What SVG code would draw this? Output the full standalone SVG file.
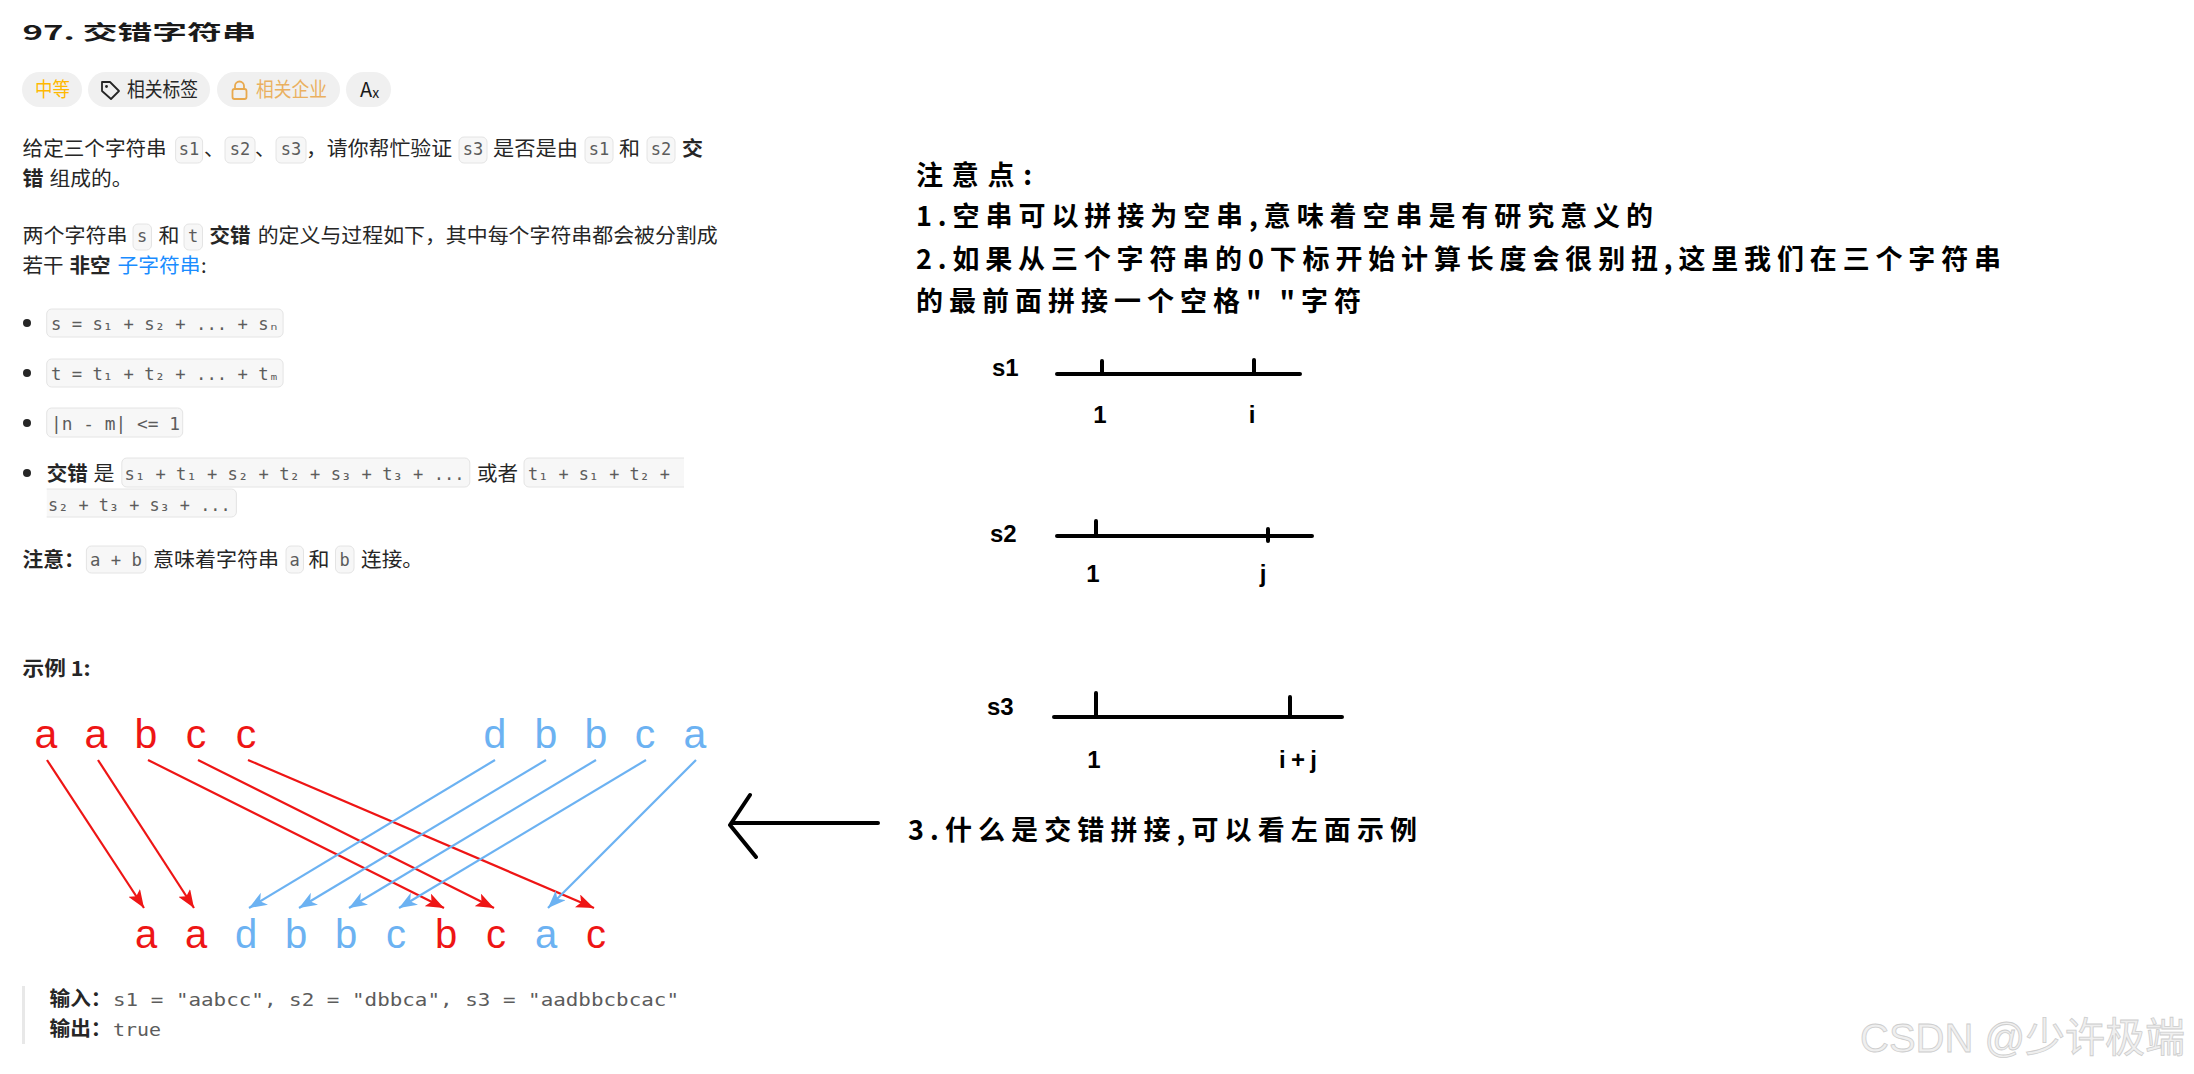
<svg xmlns="http://www.w3.org/2000/svg" width="2194" height="1074" viewBox="0 0 2194 1074">
<defs>
<style>
.t{font-family:"Noto Sans CJK SC","Noto Sans",sans-serif;font-size:20px;fill:#262626}
.b{font-weight:700}
.m{font-family:"DejaVu Sans Mono","Liberation Mono",monospace;font-size:17px;fill:#5c5c5c}
.chip{fill:#f7f7f7;stroke:#e4e4e4;stroke-width:1}
.pill{fill:#f0f0f0}
.hw{font-family:"Noto Sans CJK SC",sans-serif;font-weight:700;font-size:27px;fill:#000}
.lbl{font-family:"Liberation Sans",Arial,sans-serif;font-size:24px;font-weight:700;fill:#000}
.ax{stroke:#000;stroke-width:4;stroke-linecap:round;stroke-linejoin:round;fill:none}
.lr{font-family:"Liberation Sans",Arial,sans-serif;fill:#ee1515;text-anchor:middle}
.lb{font-family:"Liberation Sans",Arial,sans-serif;fill:#6cb2f2;text-anchor:middle}
.ar{stroke:#ee1515;stroke-width:2.2;fill:none;marker-end:url(#hr)}
.ab{stroke:#6cb2f2;stroke-width:2.2;fill:none;marker-end:url(#hb)}
</style>
<marker id="hr" markerUnits="userSpaceOnUse" markerWidth="18" markerHeight="14" refX="18" refY="7" orient="auto"><path d="M0,0 L18,7 L0,14 L4,7 z" fill="#ee1515"/></marker>
<marker id="hb" markerUnits="userSpaceOnUse" markerWidth="18" markerHeight="14" refX="18" refY="7" orient="auto"><path d="M0,0 L18,7 L0,14 L5,7 z" fill="#6cb2f2"/></marker>
</defs>
<rect width="2194" height="1074" fill="#fff"/>

<g id="title">
<text class="t b" x="22.5" y="40" font-size="33" textLength="234" lengthAdjust="spacingAndGlyphs" style="fill:#1a1a1a">97. 交错字符串</text>
</g>

<g id="tags">
<rect class="pill" x="22" y="72" width="60" height="35" rx="17.5"/>
<text class="t" x="35" y="97" font-size="18" textLength="35" lengthAdjust="spacingAndGlyphs" style="fill:#ffb800">中等</text>
<rect class="pill" x="88" y="72" width="122" height="35" rx="17.5"/>
<path d="M102,82 L110,82 L119,91 L111,99 L102,91 Z" fill="none" stroke="#262626" stroke-width="1.8" stroke-linejoin="round"/>
<circle cx="106.5" cy="86.5" r="1.4" fill="#262626"/>
<text class="t" x="127" y="97" font-size="18" textLength="71" lengthAdjust="spacingAndGlyphs">相关标签</text>
<rect class="pill" x="217" y="72" width="123" height="35" rx="17.5"/>
<path d="M235,89 v-3 a4.5,4.5 0 0 1 9,0 v3" fill="none" stroke="#e8a94e" stroke-width="1.8"/>
<rect x="232.5" y="89" width="14" height="10" rx="2" fill="none" stroke="#e8a94e" stroke-width="1.8"/>
<text class="t" x="256" y="97" font-size="18" textLength="71" lengthAdjust="spacingAndGlyphs" style="fill:#eab060">相关企业</text>
<rect class="pill" x="346" y="72" width="45" height="35" rx="17.5"/>
<text class="t" x="360" y="97" font-size="18" style="fill:#1a1a1a">A<tspan font-size="14" dy="1">x</tspan></text>
</g>

<g id="desc">
<text class="t" x="22.6" y="156" textLength="144" lengthAdjust="spacingAndGlyphs">给定三个字符串</text>
<rect class="chip" x="175.6" y="137" width="27" height="26" rx="5"/><text class="m" x="189" y="155" text-anchor="middle">s1</text>
<text class="t" x="204" y="156">、</text>
<rect class="chip" x="225" y="137" width="30" height="26" rx="5"/><text class="m" x="240" y="155" text-anchor="middle">s2</text>
<text class="t" x="255" y="156">、</text>
<rect class="chip" x="276" y="137" width="30" height="26" rx="5"/><text class="m" x="291" y="155" text-anchor="middle">s3</text>
<text class="t" x="306" y="156" textLength="146" lengthAdjust="spacingAndGlyphs">，请你帮忙验证</text>
<rect class="chip" x="459" y="137" width="28" height="26" rx="5"/><text class="m" x="473" y="155" text-anchor="middle">s3</text>
<text class="t" x="493" y="156" textLength="85" lengthAdjust="spacingAndGlyphs">是否是由</text>
<rect class="chip" x="585" y="137" width="28" height="26" rx="5"/><text class="m" x="599" y="155" text-anchor="middle">s1</text>
<text class="t" x="619" y="156" textLength="21" lengthAdjust="spacingAndGlyphs">和</text>
<rect class="chip" x="647" y="137" width="28" height="26" rx="5"/><text class="m" x="661" y="155" text-anchor="middle">s2</text>
<text class="t b" x="682" y="156" textLength="21" lengthAdjust="spacingAndGlyphs">交</text>
<text class="t b" x="22.6" y="186" textLength="21" lengthAdjust="spacingAndGlyphs">错</text>
<text class="t" x="49.5" y="186" textLength="83" lengthAdjust="spacingAndGlyphs">组成的。</text>

<text class="t" x="22.6" y="243" textLength="105" lengthAdjust="spacingAndGlyphs">两个字符串</text>
<rect class="chip" x="133" y="224" width="18.5" height="26" rx="5"/><text class="m" x="142.2" y="242" text-anchor="middle">s</text>
<text class="t" x="158.6" y="243" textLength="21" lengthAdjust="spacingAndGlyphs">和</text>
<rect class="chip" x="184" y="224" width="18.5" height="26" rx="5"/><text class="m" x="193.2" y="242" text-anchor="middle">t</text>
<text class="t b" x="209.5" y="243" textLength="41" lengthAdjust="spacingAndGlyphs">交错</text>
<text class="t" x="257.7" y="243" textLength="460" lengthAdjust="spacingAndGlyphs">的定义与过程如下，其中每个字符串都会被分割成</text>
<text class="t" x="22.6" y="273" textLength="41" lengthAdjust="spacingAndGlyphs">若干</text>
<text class="t b" x="69.4" y="273" textLength="41" lengthAdjust="spacingAndGlyphs">非空</text>
<text class="t" x="117.5" y="273" textLength="83" lengthAdjust="spacingAndGlyphs" style="fill:#1a8cff">子字符串</text>
<text class="t" x="201" y="273">:</text>
</g>

<g id="bullets">
<circle cx="27" cy="323" r="4" fill="#262626"/>
<rect class="chip" x="46.7" y="309" width="236.4" height="28" rx="5"/>
<text class="m" x="51" y="330" textLength="228" lengthAdjust="spacingAndGlyphs">s = s₁ + s₂ + ... + sₙ</text>
<circle cx="27" cy="373" r="4" fill="#262626"/>
<rect class="chip" x="46.7" y="359" width="236.4" height="28" rx="5"/>
<text class="m" x="51" y="380" textLength="228" lengthAdjust="spacingAndGlyphs">t = t₁ + t₂ + ... + tₘ</text>
<circle cx="27" cy="423" r="4" fill="#262626"/>
<rect class="chip" x="46.7" y="408" width="136" height="29" rx="5"/>
<text class="m" x="51" y="430" textLength="129" lengthAdjust="spacingAndGlyphs">|n - m| &lt;= 1</text>
<circle cx="27" cy="473" r="4" fill="#262626"/>
<text class="t b" x="46.7" y="481" textLength="41" lengthAdjust="spacingAndGlyphs">交错</text>
<text class="t" x="93.4" y="481" textLength="21" lengthAdjust="spacingAndGlyphs">是</text>
<rect class="chip" x="121.8" y="458" width="348" height="29" rx="5"/>
<text class="m" x="124.6" y="480" textLength="340" lengthAdjust="spacingAndGlyphs">s₁ + t₁ + s₂ + t₂ + s₃ + t₃ + ...</text>
<text class="t" x="477" y="481" textLength="41" lengthAdjust="spacingAndGlyphs">或者</text>
<path d="M684,458 H529 a5,5 0 0 0 -5,5 V482 a5,5 0 0 0 5,5 H684" fill="#f7f7f7" stroke="#e4e4e4"/>
<text class="m" x="528" y="480" textLength="142" lengthAdjust="spacingAndGlyphs">t₁ + s₁ + t₂ +</text>
<path d="M46.7,489 H231.4 a5,5 0 0 1 5,5 V512 a5,5 0 0 1 -5,5 H46.7" fill="#f7f7f7" stroke="#e4e4e4"/>
<text class="m" x="48" y="511" textLength="182.6" lengthAdjust="spacingAndGlyphs">s₂ + t₃ + s₃ + ...</text>
</g>

<g id="note">
<text class="t b" x="22.6" y="567" textLength="62" lengthAdjust="spacingAndGlyphs">注意：</text>
<rect class="chip" x="86.4" y="546" width="59.5" height="27" rx="5"/>
<text class="m" x="116" y="566" text-anchor="middle" textLength="52" lengthAdjust="spacingAndGlyphs">a + b</text>
<text class="t" x="153" y="567" textLength="126" lengthAdjust="spacingAndGlyphs">意味着字符串</text>
<rect class="chip" x="286" y="546" width="17.5" height="27" rx="5"/><text class="m" x="294.7" y="566" text-anchor="middle">a</text>
<text class="t" x="308.6" y="567" textLength="21" lengthAdjust="spacingAndGlyphs">和</text>
<rect class="chip" x="335.5" y="546" width="18.5" height="27" rx="5"/><text class="m" x="344.7" y="566" text-anchor="middle">b</text>
<text class="t" x="361" y="567" textLength="62" lengthAdjust="spacingAndGlyphs">连接。</text>
</g>

<g id="example-title">
<text class="t b" x="22.6" y="676" textLength="68" lengthAdjust="spacingAndGlyphs">示例 1:</text>
</g>

<g id="s1-letters" font-size="41">
<text class="lr" x="46" y="748">a</text>
<text class="lr" x="96" y="748">a</text>
<text class="lr" x="146" y="748">b</text>
<text class="lr" x="196" y="748">c</text>
<text class="lr" x="246" y="748">c</text>
</g>
<g id="s2-letters" font-size="41">
<text class="lb" x="495" y="748">d</text>
<text class="lb" x="546" y="748">b</text>
<text class="lb" x="596" y="748">b</text>
<text class="lb" x="645" y="748">c</text>
<text class="lb" x="695" y="748">a</text>
</g>
<g id="s3-letters" font-size="40">
<text class="lr" x="146" y="948">a</text>
<text class="lr" x="196" y="948">a</text>
<text class="lb" x="246" y="948">d</text>
<text class="lb" x="296" y="948">b</text>
<text class="lb" x="346" y="948">b</text>
<text class="lb" x="396" y="948">c</text>
<text class="lr" x="446" y="948">b</text>
<text class="lr" x="496" y="948">c</text>
<text class="lb" x="546" y="948">a</text>
<text class="lr" x="596" y="948">c</text>
</g>

<g id="connectors">
<line class="ar" x1="47" y1="760" x2="144" y2="908"/>
<line class="ar" x1="98" y1="760" x2="194" y2="908"/>
<line class="ar" x1="148" y1="760" x2="444" y2="908"/>
<line class="ar" x1="198" y1="760" x2="494" y2="908"/>
<line class="ar" x1="248" y1="760" x2="594" y2="908"/>
<line class="ab" x1="495" y1="760" x2="249" y2="908"/>
<line class="ab" x1="546" y1="760" x2="299" y2="908"/>
<line class="ab" x1="596" y1="760" x2="349" y2="908"/>
<line class="ab" x1="646" y1="760" x2="399" y2="908"/>
<line class="ab" x1="696" y1="760" x2="548" y2="908"/>
<path class="ax" d="M878,823 H732 M750,795 L730,825 L756,857"/>
</g>

<g id="io">
<rect x="22" y="986" width="3" height="58" fill="#e8e8e8"/>
<text class="t b" x="49.5" y="1006" textLength="62" lengthAdjust="spacingAndGlyphs">输入：</text>
<text class="m" x="113" y="1006" font-size="18" textLength="566" lengthAdjust="spacingAndGlyphs">s1 = "aabcc", s2 = "dbbca", s3 = "aadbbcbcac"</text>
<text class="t b" x="49.5" y="1036" textLength="62" lengthAdjust="spacingAndGlyphs">输出：</text>
<text class="m" x="113" y="1036" font-size="18" textLength="48" lengthAdjust="spacingAndGlyphs">true</text>
</g>

<g id="notes">
<text class="hw" x="916" y="185" textLength="116" lengthAdjust="spacing">注意点:</text>
<text class="hw" x="916" y="226" textLength="737" lengthAdjust="spacing">1.空串可以拼接为空串,意味着空串是有研究意义的</text>
<text class="hw" x="916" y="269" textLength="1085" lengthAdjust="spacing">2.如果从三个字符串的0下标开始计算长度会很别扭,这里我们在三个字符串</text>
<text class="hw" x="916" y="311" textLength="445" lengthAdjust="spacing">的最前面拼接一个空格" "字符</text>
</g>

<g id="line-s1">
<text class="lbl" x="992" y="376">s1</text>
<path class="ax" d="M1057,374 H1300 M1102,361 V374 M1254,360 V374"/>
<text class="lbl" x="1100" y="423" text-anchor="middle">1</text>
<text class="lbl" x="1252" y="423" text-anchor="middle">i</text>
</g>
<g id="line-s2">
<text class="lbl" x="990" y="542">s2</text>
<path class="ax" d="M1057,536 H1312 M1096,521 V536 M1268,529 V541"/>
<text class="lbl" x="1093" y="582" text-anchor="middle">1</text>
<text class="lbl" x="1263" y="582" text-anchor="middle">j</text>
</g>
<g id="line-s3">
<text class="lbl" x="987" y="715">s3</text>
<path class="ax" d="M1054,717 H1342 M1096,693 V717 M1290,697 V717"/>
<text class="lbl" x="1094" y="768" text-anchor="middle">1</text>
<text class="lbl" x="1279" y="768" textLength="38" lengthAdjust="spacing">i+j</text>
</g>

<g id="note3">
<text class="hw" x="908" y="840" textLength="509" lengthAdjust="spacing">3.什么是交错拼接,可以看左面示例</text>
</g>

<g id="watermark">
<text x="1860" y="1052" font-family="'Liberation Sans','Noto Sans CJK SC',sans-serif" font-size="41" textLength="325" lengthAdjust="spacingAndGlyphs" fill="#efefef" stroke="#cdcdcd" stroke-width="0.8">CSDN @少许极端</text>
</g>
</svg>
